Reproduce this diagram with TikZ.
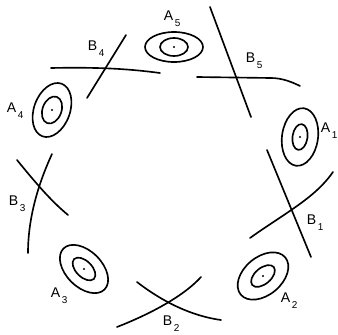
\documentclass[tikz,border=0pt]{standalone}
\usepackage{fontspec}
\setmainfont{Liberation Sans}
\usepackage{tikz}

% label with a lowered index
\newcommand{\cell}[2]{#1\hspace{1.5pt}\raisebox{-5.5pt}{\fontsize{8.5}{9}\selectfont #2}}

\begin{document}
\begin{tikzpicture}[x=0.03cm, y=-0.03cm, line width=1.4pt, line cap=round,
  font=\fontsize{12}{14}\selectfont,
  tag/.style={anchor=base west, inner sep=0pt}]
\useasboundingbox (0,0) rectangle (338,334);
% nested contours A1..A5
\draw (300,137) circle [x radius=29, y radius=18, rotate=82];
\draw (300,137) circle [x radius=13, y radius=7.5, rotate=82];
\fill (300,137) circle (1.2);
\draw (263,276) circle [x radius=29, y radius=19, rotate=40];
\draw (263,276) circle [x radius=14, y radius=8, rotate=40];
\fill (263,276) circle (1.2);
\draw (84,269) circle [x radius=29, y radius=18, rotate=-45];
\draw (84,269) circle [x radius=14, y radius=8, rotate=-45];
\fill (84,269) circle (1.2);
\draw (52,110) circle [x radius=28, y radius=18, rotate=70];
\draw (52,110) circle [x radius=14, y radius=9.5, rotate=70];
\fill (52,110) circle (1.2);
\draw (174,47) circle [x radius=29, y radius=15];
\draw (174,47) circle [x radius=14, y radius=9];
\fill (174,47) circle (1.2);
% crossing cuts B1..B5
\draw (267,150) -- (311,257);
\draw (250,238) .. controls (285,213) and (315,198) .. (333,172);
\draw (137,282) .. controls (155,296) and (185,315) .. (221,320);
\draw (117,327) .. controls (140,318) and (180,300) .. (201,277);
\draw (17,160) .. controls (35,182) and (50,200) .. (68,215);
\draw (52,154) .. controls (40,180) and (28,215) .. (28,253);
\draw (126,35) -- (87,98);
\draw (51,68) .. controls (100,67) and (130,69) .. (160,73);
\draw (210,7) -- (251,117);
\draw (197,77) -- (271,78) .. controls (282,78) and (292,82) .. (300,86);
% labels
\node[tag] (a1) at (320,132) {\cell{A}{1}};
\node[tag] (a2) at (280,302) {\cell{A}{2}};
\node[tag] (a3) at (50,297) {\cell{A}{3}};
\node[tag] (a4) at (6,112) {\cell{A}{4}};
\node[tag] (a5) at (163,20) {\cell{A}{5}};
\node[tag] (b1) at (306,224) {\cell{B}{1}};
\node[tag] (b2) at (162,325) {\cell{B}{2}};
\node[tag] (b3) at (8,205) {\cell{B}{3}};
\node[tag] (b4) at (87,50) {\cell{B}{4}};
\node[tag] (b5) at (245,62) {\cell{B}{5}};
\end{tikzpicture}
\end{document}
